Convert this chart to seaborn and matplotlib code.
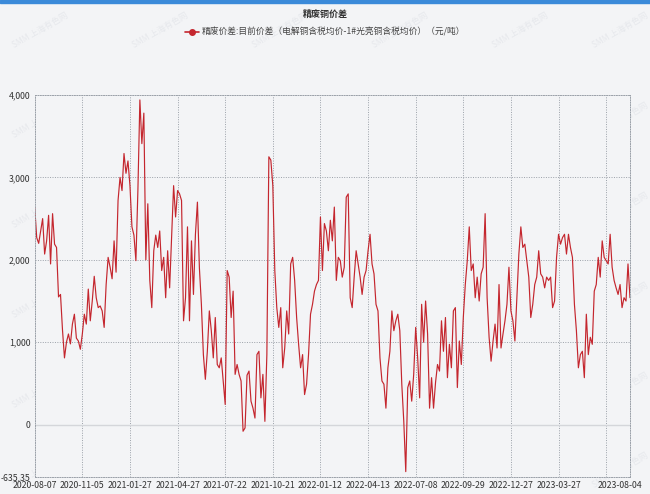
import numpy as np
import pandas as pd
import seaborn as sns
import matplotlib.pyplot as plt
from matplotlib.lines import Line2D
from matplotlib.transforms import ScaledTranslation

# 精废价差 (元/吨), one reading every ~2 px along the chart, 24 readings per tick
spread = [
    2640, 2270, 2200, 2350, 2500, 2070, 2230, 2540, 1950, 2560,
    2190, 2150, 1550, 1580, 1150, 810, 1000, 1100, 980, 1220,
    1340, 1050, 1015, 915, 1100, 1340, 1220, 1645, 1260, 1500,
    1800, 1540, 1420, 1440, 1380, 1180, 1700, 2030, 1910, 1770,
    2230, 1850, 2720, 3000, 2840, 3290, 3050, 3200, 2900, 2400,
    2300, 1990, 2840, 3940, 3410, 3780, 2000, 2680, 1750, 1420,
    2110, 2300, 2150, 2350, 1870, 2030, 1540, 2110, 1660, 2270,
    2900, 2520, 2840, 2800, 2720, 1260, 1540, 2400, 1260, 2230,
    1580, 2310, 2700, 1900, 1460, 850, 550, 890, 1380, 1140,
    810, 1300, 730, 690, 810, 530, 245, 1870, 1790, 1300,
    1620, 610, 730, 610, 530, -80, -40, 600, 650, 285,
    200, 80, 850, 890, 325, 610, 40, 850, 3250, 3210,
    2900, 1870, 1420, 1180, 1420, 690, 930, 1380, 1100, 1950,
    2030, 1750, 1300, 975, 690, 850, 365, 490, 850, 1340,
    1460, 1620, 1700, 1750, 2520, 1870, 2440, 2350, 2110, 2480,
    2230, 2640, 1750, 2030, 1990, 1790, 1910, 2760, 2800, 1540,
    1420, 1790, 2110, 1950, 1790, 1580, 1790, 1870, 2110, 2310,
    1950, 1830, 1460, 1380, 810, 530, 490, 200, 690, 890,
    1380, 1140, 1260, 1340, 1140, 490, 40, -570, 450, 530,
    285, 610, 1180, 810, 325, 1460, 1000, 1500, 1100, 200,
    570, 200, 510, 730, 650, 1260, 890, 1300, 570, 975,
    690, 1380, 1420, 450, 1015, 730, 1300, 1700, 1990, 2400,
    1870, 1950, 1540, 1790, 1500, 1830, 1910, 2560, 1540, 1060,
    770, 1015, 1220, 930, 1700, 930, 1100, 1260, 1460, 1910,
    1380, 1260, 1015, 1540, 2070, 2400, 2150, 2190, 1990, 1790,
    1300, 1460, 1700, 1790, 2110, 1830, 1790, 1660, 1790, 1750,
    1790, 1420, 1500, 2030, 2310, 2190, 2270, 2310, 2070, 2310,
    2150, 2030, 1460, 1140, 690, 850, 890, 570, 1340, 850,
    1060, 975, 1620, 1700, 2030, 1790, 2230, 2030, 1990, 1950,
    2310, 1910, 1750, 1660, 1580, 1700, 1420, 1540, 1500, 1950,
    1540,
]

date_labels = ['2020-08-07', '2020-11-05', '2021-01-27', '2021-04-27',
               '2021-07-22', '2021-10-21', '2022-01-12', '2022-04-13',
               '2022-07-08', '2022-09-29', '2022-12-27', '2023-03-27']
last_label = '2023-08-04'

y_ticks = [-635.35, 0, 1000, 2000, 3000, 4000]
y_labels = ['-635.35', '0', '1,000', '2,000', '3,000', '4,000']

title = '精废铜价差'
series_name = '精废价差:目前价差（电解铜含税均价-1#光亮铜含税均价）（元/吨）'

df = pd.DataFrame({'idx': np.arange(len(spread)), 'spread': spread})

sns.set_style('white')
plt.rcParams['font.family'] = ['Noto Sans CJK SC', 'DejaVu Sans']

bg = '#f3f4f6'
red = '#c4262e'
grid_c = '#9aa0a8'

fig = plt.figure(figsize=(6.5, 4.94), dpi=100, facecolor=bg)
ax = fig.add_axes([0.0534, 0.0344, 0.9158, 0.7733])
ax.set_facecolor(bg)

sns.lineplot(data=df, x='idx', y='spread', ax=ax, color=red, linewidth=0.85)

n = len(spread) - 1
step = 24
ax.set_xlim(0, n)
ax.set_ylim(y_ticks[0], y_ticks[-1])

# grid
for k in range(step, n, step):
    ax.axvline(k, color=grid_c, lw=0.7, ls=(0, (1, 1.5)), zorder=0)
for v in y_ticks[2:-1]:
    ax.axhline(v, color=grid_c, lw=0.7, ls=(0, (1, 1.5)), zorder=0)
ax.axhline(0, color='#d4d6da', lw=1.0, zorder=0)

for side in ['left', 'right', 'top', 'bottom']:
    ax.spines[side].set_color(grid_c)
    ax.spines[side].set_linewidth(0.7)
    ax.spines[side].set_linestyle((0, (1, 1.5)))

xt = list(range(0, step * len(date_labels), step)) + [n]
ax.set_xticks(xt)
ax.set_xticklabels(date_labels + [last_label])
ax.set_yticks(y_ticks)
ax.set_yticklabels(y_labels)
ax.tick_params(axis='both', labelsize=6.3, colors='#333333', length=0, pad=3)
ax.set_xlabel('')
ax.set_ylabel('')

# keep the last date inside the picture
last = ax.get_xticklabels()[-1]
last.set_transform(last.get_transform() + ScaledTranslation(-0.1, 0, fig.dpi_scale_trans))

fig.text(0.5, 1 - 14 / 494, title, ha='center', va='center',
         fontsize=6.5, fontweight='bold', color='#333333')

handle = Line2D([], [], color=red, lw=1.2, marker='o', markersize=4)
fig.legend([handle], [series_name], loc='center',
           bbox_to_anchor=(0.5, 1 - 32 / 494), frameon=False,
           fontsize=6.3, handlelength=1.6, handletextpad=0.4,
           labelcolor='#444444')

# faint watermark
for wy in [30, 120, 210, 300, 390, 470]:
    for wx in [40, 160, 280, 400, 520, 620]:
        fig.text(wx / 650, 1 - wy / 494, 'SMM 上海有色网', fontsize=6,
                 color='#e6e8ec', rotation=30, ha='center', va='center',
                 zorder=-1)

# blue strip along the top
fig.add_artist(plt.Rectangle((0, 1 - 3 / 494), 1, 3 / 494,
                             transform=fig.transFigure, color='#3b8ad9'))

fig.savefig('out.png', dpi=100, facecolor=bg)
